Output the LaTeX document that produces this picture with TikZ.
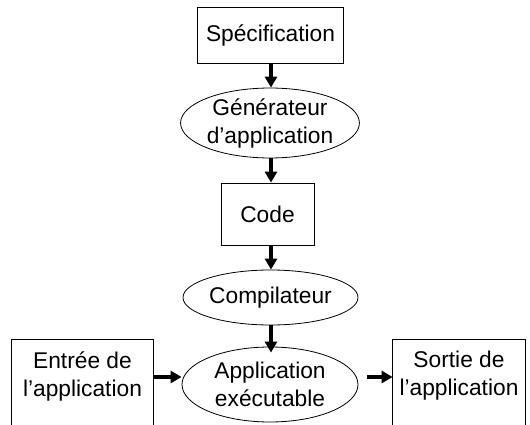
\documentclass[tikz,border=0pt]{standalone}
\usepackage{fontspec}
\setmainfont{Liberation Sans}
\usetikzlibrary{shapes.geometric,arrows.meta}
\begin{document}
\begin{tikzpicture}[x=1pt,y=-1pt,
  every node/.style={font=\fontsize{22.75}{28}\selectfont, align=center, inner sep=0pt, line width=0.8pt},
  boxnode/.style={draw, rectangle},
  ellnode/.style={draw, ellipse},
  flow/.style={line width=3.2pt, -{Triangle[width=12pt,length=11pt]}}]
\useasboundingbox (0,0) rectangle (530,425);
\clip (0,0) rectangle (530,425);
\node[boxnode, minimum width=146pt, minimum height=56pt] (spec) at (270.5,35.5) {Spécification};
\node[ellnode, minimum width=176pt, minimum height=68pt] (gen) at (270,123) {Générateur\\d’application};
\node[boxnode, minimum width=93pt, minimum height=62pt] (code) at (267.5,214) {Code};
\node[ellnode, minimum width=175pt, minimum height=55pt] (comp) at (270.5,297.5) {Compilateur};
\node[ellnode, minimum width=176pt, minimum height=75pt] (app) at (270,384.5) {Application\\exécutable};
\node[minimum width=141pt, minimum height=72pt] (in) at (82.5,376) {Entrée de\\l’application};
\node[minimum width=132pt, minimum height=72pt] (out) at (459,376) {Sortie de\\l’application};
\draw[line width=0.8pt] ([yshift=-30pt]in.south west) -- (in.north west) -- (in.north east) -- ([yshift=-30pt]in.south east);
\draw[line width=0.8pt] ([yshift=-30pt]out.south west) -- (out.north west) -- (out.north east) -- ([yshift=-30pt]out.south east);
\draw[flow] (spec.south -| 271,0) -- (gen.north -| 271,0);
\draw[flow] (gen.south -| 271,0) -- (code.north -| 271,0);
\draw[flow] (code.south -| 271,0) -- (comp.north -| 271,0);
\draw[flow, shorten >=-6pt] (comp.south -| 271,0) -- (app.north -| 271,0);
\draw[flow] (in.east |- 0,377) -- (app.west |- 0,377);
\draw[flow, shorten <=9pt] (app.east |- 0,377) -- (out.west |- 0,377);
\end{tikzpicture}
\end{document}
